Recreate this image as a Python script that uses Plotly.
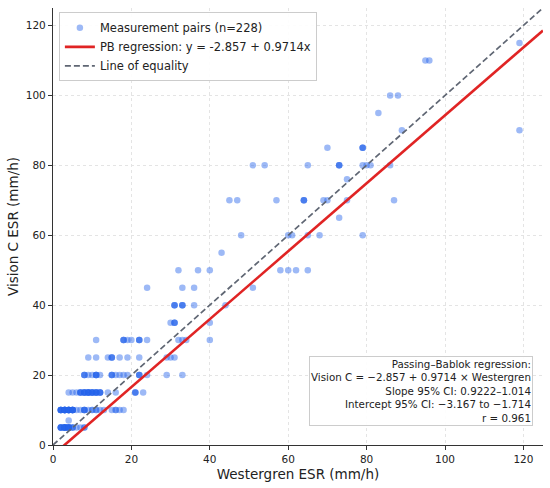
import plotly.graph_objects as go

# Vision C ESR levels (mm/h) and the Westergren ESR values measured at each level
vision_levels = [5, 7, 10, 15, 20, 25, 30, 35, 40, 45, 50, 55, 60, 65, 70, 76, 80, 85, 90, 95, 100, 110, 115]
westergren_by_level = [
    [2, 2, 2, 2, 2, 3, 3, 3, 3, 3, 3, 3, 3, 4, 4, 4, 4, 4, 4, 4, 5, 5, 5, 6, 7, 8, 8],
    [4],
    [2, 2, 2, 2, 2, 2, 3, 3, 3, 3, 3, 3, 3, 3, 3, 4, 4, 4, 4, 4, 4, 4, 4, 5, 5, 5, 5, 5, 5, 5,
     6, 7, 8, 8, 8, 8, 9, 10, 10, 11, 11, 12, 13, 15, 16, 16, 17, 18],
    [4, 5, 6, 7, 7, 7, 7, 8, 8, 8, 8, 8, 9, 9, 9, 9, 9, 9, 10, 10, 10, 10, 10, 11, 11, 11, 11, 11,
     12, 12, 12, 12, 14, 16, 21, 21, 21, 23],
    [8, 8, 8, 9, 10, 11, 11, 11, 11, 12, 15, 15, 15, 16, 17, 18, 19, 22, 22, 22, 24, 29, 33],
    [9, 11, 14, 15, 15, 15, 17, 19, 22, 29, 30, 31],
    [11, 18, 18, 18, 19, 20, 22, 22, 22, 24, 32, 33, 34, 40],
    [30, 31, 31, 31, 40],
    [31, 31, 31, 33, 33, 33, 36, 44],
    [24, 33, 36, 51],
    [32, 37, 40, 58, 60, 62, 65],
    [43],
    [48, 60, 61, 65, 68, 79],
    [73],
    [45, 47, 57, 64, 64, 64, 69, 70, 75, 87],
    [75],
    [51, 54, 65, 73, 73, 73, 79, 80, 81, 86],
    [70, 79, 79, 79],
    [89, 119],
    [83],
    [86, 88],
    [95, 96],
    [119],
]

westergren = [x for grp in westergren_by_level for x in grp]
vision_c = [lvl for lvl, grp in zip(vision_levels, westergren_by_level) for _ in grp]

intercept = -2.857
slope = 0.9714
axis_max = 125
ticks = [0, 20, 40, 60, 80, 100, 120]

stats_text = (
    "Passing–Bablok regression:<br>"
    "Vision C = −2.857 + 0.9714 × Westergren<br>"
    "Slope 95% CI: 0.9222–1.014<br>"
    "Intercept 95% CI: −3.167 to −1.714<br>"
    "r = 0.961"
)

font = "DejaVu Sans"
fig = go.Figure()

fig.add_trace(go.Scatter(
    x=westergren, y=vision_c, mode="markers",
    name=f"Measurement pairs (n={len(westergren)})",
    marker=dict(color="rgba(37,99,235,0.45)", size=6.5, line=dict(width=0)),
))

line_x = [0, axis_max]
fig.add_trace(go.Scatter(
    x=line_x, y=[intercept + slope * v for v in line_x], mode="lines",
    name=f"PB regression: y = {intercept} + {slope}x",
    line=dict(color="#e02424", width=2.6),
))

fig.add_trace(go.Scatter(
    x=line_x, y=line_x, mode="lines", name="Line of equality",
    line=dict(color="#5f6673", width=1.7, dash="6px,3px"),
))

axis_common = dict(
    range=[0, axis_max], tickvals=ticks, showgrid=True,
    gridcolor="#e4e4e4", griddash="dot", gridwidth=1,
    showline=True, linecolor="#333333", linewidth=1.3,
    ticks="outside", ticklen=4, tickcolor="#333333",
    tickfont=dict(size=10.5, color="#222222"), zeroline=False,
    automargin=False,
)

fig.update_layout(
    width=550, height=488,
    margin=dict(l=53, r=7, t=8, b=43),
    plot_bgcolor="white", paper_bgcolor="white",
    font=dict(family=font, color="#222222"),
    xaxis=dict(title=dict(text="Westergren ESR (mm/h)", font=dict(size=13.5), standoff=5), **axis_common),
    yaxis=dict(title=dict(text="Vision C ESR (mm/h)", font=dict(size=13.5), standoff=3), **axis_common),
    legend=dict(
        x=0.012, y=0.99, xanchor="left", yanchor="top",
        bgcolor="rgba(255,255,255,0.9)", bordercolor="#cccccc", borderwidth=1,
        font=dict(size=11.5), tracegroupgap=0, itemwidth=30,
    ),
    showlegend=True,
)

fig.add_annotation(
    xref="paper", yref="paper", x=0.98, y=0.043, xanchor="right", yanchor="bottom",
    text=stats_text, showarrow=False, align="right",
    font=dict(size=10.3, color="#222222"),
    bgcolor="rgba(255,255,255,0.9)", bordercolor="#cccccc", borderwidth=1, borderpad=1,
)

# the page body has a default 8px margin; drop it so the figure sits at the window's corner
fig.write_html(
    "out.html",
    config={"displayModeBar": False},
    post_script="document.body.style.margin='0';",
)
